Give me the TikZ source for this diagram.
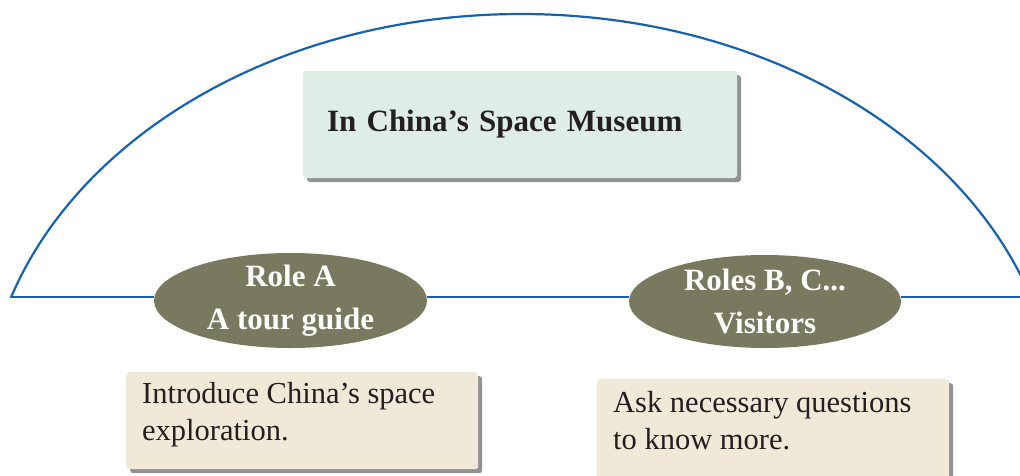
\documentclass[tikz,border=0pt]{standalone}
\usepackage{fontspec}
\setmainfont{Liberation Serif}
\usetikzlibrary{shapes.geometric,shadows}

\definecolor{arcblue}{RGB}{22,98,178}
\definecolor{titlefill}{RGB}{222,237,230}
\definecolor{notefill}{RGB}{241,233,216}
\definecolor{rolefill}{RGB}{120,121,94}
\definecolor{shadowgray}{RGB}{146,146,146}
\definecolor{ink}{RGB}{35,31,32}

\begin{document}
\begin{tikzpicture}[x=1pt,y=-1pt,
  outline/.style={draw=arcblue, line width=2.2pt},
  boxshadow/.style={drop shadow={shadow xshift=4pt, shadow yshift=-4pt, fill=shadowgray, opacity=1}},
  titlebox/.style={fill=titlefill, rounded corners=3pt, boxshadow,
    minimum width=434pt, minimum height=107pt, inner xsep=24pt, inner ysep=0pt,
    text width=386pt, align=left, text=ink,
    font=\fontsize{31}{37}\selectfont\bfseries},
  rolebox/.style={ellipse, fill=rolefill, inner sep=0pt},
  roletext/.style={text=white, align=center, inner sep=0pt,
    font=\fontsize{31}{43}\selectfont\bfseries},
  notebox/.style={fill=notefill, rounded corners=3pt, boxshadow, anchor=north west,
    inner xsep=16pt, inner ysep=0pt, text=ink,
    font=\fontsize{30.5}{37.5}\selectfont}
]
\useasboundingbox (0,0) rectangle (1020,475);

% ends of the floor line
\coordinate (L) at (12,297);
\coordinate (R) at (1032,297);

% dome outline: upper part of an ellipse, cut at the floor line
\begin{scope}
  \clip (-20,-20) rectangle (1060,297);
  \draw[outline] (521,424) ellipse [x radius=536, y radius=410];
\end{scope}

% heading
\node[titlebox, yshift=2pt] (title) at (520,126.5) {In China’s Space Museum};

% the two roles
\node[rolebox, minimum width=273pt, minimum height=95pt,
  label={[roletext]center:{Role A\\A tour guide}}] (roleA) at (290.5,300.5) {};
\node[rolebox, minimum width=272pt, minimum height=93pt,
  label={[roletext]center:{Roles B, C...\\Visitors}}] (roleB) at (765,301.5) {};

% floor line between the roles
\draw[outline] (L) -- (L -| roleA.west);
\draw[outline] (roleA.east |- L) -- (roleB.west |- L);
\draw[outline] (roleB.east |- L) -- (R);

% task notes
\node[notebox] (noteA) at (126,372)
  {\begin{minipage}[t][97pt][t]{320pt}\rule{0pt}{31pt}Introduce China’s space\\exploration.\end{minipage}};
\node[notebox] (noteB) at (597,379)
  {\begin{minipage}[t][101pt][t]{320pt}\rule{0pt}{33pt}Ask necessary questions\\to know more.\end{minipage}};
\end{tikzpicture}
\end{document}
